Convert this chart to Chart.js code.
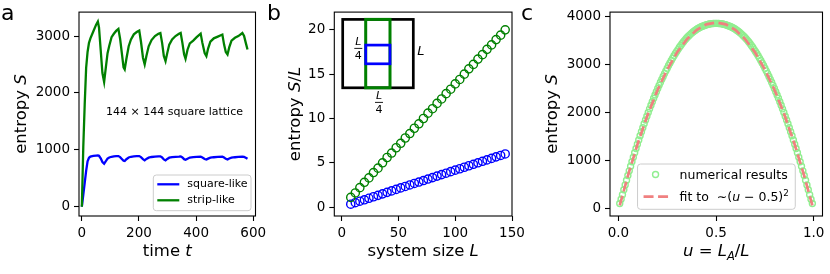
<!DOCTYPE html>
<html><head><meta charset="utf-8">
<script src="https://cdn.jsdelivr.net/npm/chart.js"></script>
<style>
html,body{margin:0;padding:0;background:#fff;}
#wrap{position:relative;width:830px;height:274px;overflow:hidden;background:#fff;}
canvas{position:absolute;top:0;}
</style></head><body>
<div id="wrap">
<canvas id="ca" width="280" height="274" style="left:0px;width:280px;height:274px"></canvas>
<canvas id="cb" width="275" height="274" style="left:262px;width:275px;height:274px"></canvas>
<canvas id="cc" width="315" height="274" style="left:515px;width:315px;height:274px"></canvas>
</div>
<script>
// ---------- data: panel a ----------
const timeT = [0,5,10,15,20,25,30,40,50,56,60,66,72,78,84,90,96,104,112,120,128,134,140,146,150,156,164,172,182,192,201,207,214,220,226,234,244,256,268,275,281,287,293,299,306,316,328,340,346,352,358,363,370,378,390,402,416,422,430,436,442,450,462,476,492,498,504,510,516,524,536,548,562,568,574,580];
const stripLikeS = [0,1050,1800,2440,2720,2880,2960,3080,3200,3255,3150,2750,2350,2194,2450,2700,2830,2980,3040,3090,3124,2950,2700,2450,2415,2600,2822,2940,3030,3070,3095,2900,2620,2503,2650,2820,2930,3000,3040,3054,2880,2650,2560,2700,2850,2940,3000,3040,3054,2880,2680,2600,2760,2870,2920,2980,3043,2880,2700,2647,2780,2900,2960,2990,3026,2850,2720,2677,2800,2920,2970,3000,3054,3000,2880,2764];
const squareLikeS = [0,210,420,630,800,860,880,893,900,902,895,850,785,757,800,845,865,878,885,888,890,872,840,808,803,835,865,878,885,888,890,872,838,815,840,862,874,880,884,885,866,832,815,840,862,872,878,882,885,866,836,825,845,864,872,878,882,865,838,828,845,862,870,875,880,865,842,830,848,862,870,875,880,876,862,845];
const ticksAX = [0,200,400,600];
const ticksAY = [0,1000,2000,3000];

// ---------- data: panel b ----------
const sizeL = [8,12,16,20,24,28,32,36,40,44,48,52,56,60,64,68,72,76,80,84,88,92,96,100,104,108,112,116,120,124,128,132,136,140,144];
const stripSperL = [1.1,1.6,2.2,2.8,3.3,3.9,4.4,5.0,5.6,6.1,6.7,7.2,7.8,8.3,8.9,9.4,10.0,10.6,11.1,11.7,12.2,12.8,13.3,13.9,14.4,15.0,15.6,16.1,16.7,17.2,17.8,18.3,18.9,19.4,20.0];
const squareSperL = [0.33,0.5,0.67,0.83,1.0,1.17,1.33,1.5,1.67,1.83,2.0,2.17,2.33,2.5,2.67,2.83,3.0,3.17,3.33,3.5,3.67,3.83,4.0,4.17,4.33,4.5,4.67,4.83,5.0,5.17,5.33,5.5,5.67,5.83,6.0];
const ticksBX = [0,50,100,150];
const ticksBY = [0,5,10,15,20];

// ---------- data: panel c ----------
const uNum = [0.0069,0.0139,0.0208,0.0278,0.0347,0.0417,0.0486,0.0556,0.0625,0.0694,0.0764,0.0833,0.0903,0.0972,0.1042,0.1111,0.1181,0.125,0.1319,0.1389,0.1458,0.1528,0.1597,0.1667,0.1736,0.1806,0.1875,0.1944,0.2014,0.2083,0.2153,0.2222,0.2292,0.2361,0.2431,0.25,0.2569,0.2639,0.2708,0.2778,0.2847,0.2917,0.2986,0.3056,0.3125,0.3194,0.3264,0.3333,0.3403,0.3472,0.3542,0.3611,0.3681,0.375,0.3819,0.3889,0.3958,0.4028,0.4097,0.4167,0.4236,0.4306,0.4375,0.4444,0.4514,0.4583,0.4653,0.4722,0.4792,0.4861,0.4931,
  0.5,
  0.5069,0.5139,0.5208,0.5278,0.5347,0.5417,0.5486,0.5556,0.5625,0.5694,0.5764,0.5833,0.5903,0.5972,0.6042,0.6111,0.6181,0.625,0.6319,0.6389,0.6458,0.6528,0.6597,0.6667,0.6736,0.6806,0.6875,0.6944,0.7014,0.7083,0.7153,0.7222,0.7292,0.7361,0.7431,0.75,0.7569,0.7639,0.7708,0.7778,0.7847,0.7917,0.7986,0.8056,0.8125,0.8194,0.8264,0.8333,0.8403,0.8472,0.8542,0.8611,0.8681,0.875,0.8819,0.8889,0.8958,0.9028,0.9097,0.9167,0.9236,0.9306,0.9375,0.9444,0.9514,0.9583,0.9653,0.9722,0.9792,0.9861,0.9931];
const sNum = [100,190,285,385,485,585,682,780,876,970,1064,1156,1246,1335,1423,1510,1594,1677,1759,1840,1918,1995,2071,2146,2218,2290,2360,2428,2494,2560,2623,2685,2746,2805,2862,2918,2972,3025,3077,3127,3175,3222,3267,3310,3352,3392,3430,3467,3502,3535,3566,3595,3622,3648,3672,3694,3714,3733,3750,3765,3779,3791,3802,3812,3821,3829,3836,3842,3846,3849,3850,
  3850,
  3850,3849,3846,3842,3836,3829,3821,3812,3802,3791,3779,3765,3750,3733,3714,3694,3672,3648,3622,3595,3566,3535,3502,3467,3430,3392,3352,3310,3267,3222,3175,3127,3077,3025,2972,2918,2862,2805,2746,2685,2623,2560,2494,2428,2360,2290,2218,2146,2071,1995,1918,1840,1759,1677,1594,1510,1423,1335,1246,1156,1064,970,876,780,682,585,485,385,285,190,100];
const uFit = [0.007,0.05,0.10,0.15,0.20,0.25,0.30,0.35,0.40,0.45,0.50,0.55,0.60,0.65,0.70,0.75,0.80,0.85,0.90,0.95,0.993];
const sFit = [59,695,1361,1949,2459,2890,3243,3517,3713,3831,3870,3831,3713,3517,3243,2890,2459,1949,1361,695,59];
const ticksCX = [0,0.5,1.0];
const ticksCY = [0,1000,2000,3000,4000];

// ---------- helpers ----------
const FONT = "'DejaVu Sans', sans-serif";
const TICK_SIZE = 13.5, LABEL_SIZE = 16.5;

function pts(xs, ys){ return xs.map((x,i)=>({x:x, y:ys[i]})); }

function fontStr(p, size){
  const s = (p.sub||p.sup) ? size*0.7 : size;
  return (p.i ? 'italic ' : '') + s + 'px ' + FONT;
}
function richWidth(ctx, parts, size){
  let w = 0;
  for (const p of parts){ ctx.font = fontStr(p,size); w += ctx.measureText(p.t).width; }
  return w;
}
function drawRich(ctx, parts, x, y, size, align, rotate){
  ctx.save();
  ctx.translate(x,y);
  if (rotate) ctx.rotate(-Math.PI/2);
  const w = richWidth(ctx, parts, size);
  let cx = align === 'center' ? -w/2 : 0;
  ctx.textBaseline = 'alphabetic'; ctx.textAlign = 'left'; ctx.fillStyle = '#000';
  for (const p of parts){
    ctx.font = fontStr(p,size);
    let dy = 0;
    if (p.sub) dy = size*0.22;
    if (p.sup) dy = -size*0.42;
    ctx.fillText(p.t, cx, dy);
    cx += ctx.measureText(p.t).width;
  }
  ctx.restore();
}
function roundRect(ctx, x, y, w, h, r){
  ctx.beginPath();
  ctx.moveTo(x+r,y); ctx.lineTo(x+w-r,y); ctx.quadraticCurveTo(x+w,y,x+w,y+r);
  ctx.lineTo(x+w,y+h-r); ctx.quadraticCurveTo(x+w,y+h,x+w-r,y+h);
  ctx.lineTo(x+r,y+h); ctx.quadraticCurveTo(x,y+h,x,y+h-r);
  ctx.lineTo(x,y+r); ctx.quadraticCurveTo(x,y,x+r,y); ctx.closePath();
}
function legendBox(ctx, x, y, w, h){
  ctx.save();
  roundRect(ctx, x, y, w, h, 3);
  ctx.fillStyle = 'rgba(255,255,255,0.8)'; ctx.fill();
  ctx.strokeStyle = '#cccccc'; ctx.lineWidth = 1; ctx.stroke();
  ctx.restore();
}

function axisCfg(min, max, ticksArr, fmt, isY, fitSize){
  return {
    type:'linear', min:min, max:max, position: isY ? 'left' : 'bottom',
    afterBuildTicks: s => { s.ticks = ticksArr.map(v => ({value:v})); },
    afterFit: s => { if (isY) s.width = fitSize; else s.height = fitSize; },
    grid: {display:true, drawOnChartArea:false, drawTicks:true, tickLength:5, tickWidth:1.1, tickColor:'#000'},
    border: {display:false},
    title: {display:false},
    ticks: {color:'#000', font:{family:FONT, size:TICK_SIZE}, padding:4, callback: fmt, maxRotation:0, autoSkip:false}
  };
}

function framePlugin(extraDraw){
  return {
    id:'frame',
    afterDatasetsDraw(chart){
      const ctx = chart.ctx, a = chart.chartArea;
      ctx.save();
      ctx.strokeStyle = '#000'; ctx.lineWidth = 1.1;
      ctx.strokeRect(a.left, a.top, a.right-a.left, a.bottom-a.top);
      ctx.restore();
      extraDraw(chart, ctx, a);
    }
  };
}

const baseOpts = (pad) => ({
  responsive:false, animation:false, devicePixelRatio:1,
  layout:{padding:pad},
  plugins:{legend:{display:false}, tooltip:{enabled:false}}
});

// ---------- panel a ----------
new Chart(document.getElementById('ca'), {
  type:'line',
  data:{datasets:[
    {label:'strip-like', data:pts(timeT, stripLikeS), borderColor:'#008000', borderWidth:2.3, pointRadius:0, fill:false, tension:0},
    {label:'square-like', data:pts(timeT, squareLikeS), borderColor:'#0000ff', borderWidth:2.3, pointRadius:0, fill:false, tension:0}
  ]},
  options: Object.assign(baseOpts({left:0, right:24.5, top:11, bottom:0}), {
    scales:{
      x: axisCfg(-10, 608, ticksAX, v => String(v), false, 58),
      y: axisCfg(-163, 3421, ticksAY, v => String(v), true, 79)
    }
  }),
  plugins:[framePlugin((chart, ctx, a) => {
    ctx.save();
    ctx.font = '11px ' + FONT; ctx.fillStyle = '#000'; ctx.textAlign = 'center'; ctx.textBaseline = 'alphabetic';
    ctx.fillText('144 \u00d7 144 square lattice', a.left + 95.5, a.top + 103);
    ctx.restore();
    const lx = a.right - 102.2, ly = a.bottom - 41;
    legendBox(ctx, lx, ly, 97.7, 35.7);
    const ds = chart.data.datasets;
    const entries = [[ds[1], 'square-like', ly + 9.3], [ds[0], 'strip-like', ly + 25.3]];
    ctx.save();
    for (const [d, txt, yy] of entries){
      ctx.strokeStyle = d.borderColor; ctx.lineWidth = 2.3;
      ctx.beginPath(); ctx.moveTo(lx + 4, yy); ctx.lineTo(lx + 26, yy); ctx.stroke();
      ctx.fillStyle = '#000'; ctx.font = '11px ' + FONT; ctx.textBaseline = 'middle'; ctx.textAlign = 'left';
      ctx.fillText(txt, lx + 34, yy);
    }
    ctx.restore();
    drawRich(ctx, [{t:'entropy '},{t:'S',i:1}], 26, (a.top+a.bottom)/2, LABEL_SIZE, 'center', true);
    drawRich(ctx, [{t:'time '},{t:'t',i:1}], (a.left+a.right)/2, 256, LABEL_SIZE, 'center', false);
    ctx.save(); ctx.font = '22px ' + FONT; ctx.fillStyle = '#000'; ctx.textBaseline = 'alphabetic';
    ctx.fillText('a', 1, 19.5); ctx.restore();
  })]
});

// ---------- panel b ----------
new Chart(document.getElementById('cb'), {
  type:'scatter',
  data:{datasets:[
    {label:'strip-like', data:pts(sizeL, stripSperL), showLine:false, pointStyle:'circle', pointRadius:4.1, pointBorderWidth:1.4, borderColor:'#008000', backgroundColor:'rgba(0,0,0,0)', pointBackgroundColor:'rgba(0,0,0,0)', pointBorderColor:'#008000'},
    {label:'square-like', data:pts(sizeL, squareSperL), showLine:false, pointStyle:'circle', pointRadius:4.1, pointBorderWidth:1.4, borderColor:'#0000ff', backgroundColor:'rgba(0,0,0,0)', pointBackgroundColor:'rgba(0,0,0,0)', pointBorderColor:'#0000ff'}
  ]},
  options: Object.assign(baseOpts({left:0, right:25, top:11, bottom:0}), {
    scales:{
      x: axisCfg(-6.5, 150, ticksBX, v => String(v), false, 58),
      y: axisCfg(-1.0, 22.0, ticksBY, v => String(v), true, 72.3)
    }
  }),
  plugins:[framePlugin((chart, ctx, a) => {
    const ox = a.left, oy = a.top;
    ctx.save();
    ctx.fillStyle = '#fff';
    ctx.fillRect(ox+8.4, oy+7.3, 70.6, 68.4);
    ctx.strokeStyle = '#000'; ctx.lineWidth = 2.7;
    ctx.strokeRect(ox+8.4, oy+7.3, 70.6, 68.4);
    ctx.strokeStyle = '#008000'; ctx.lineWidth = 3;
    ctx.strokeRect(ox+31.4, oy+7.3, 24.3, 68.4);
    ctx.strokeStyle = '#0000ff'; ctx.lineWidth = 2.7;
    ctx.strokeRect(ox+31.4, oy+33, 24.3, 18.7);
    const frac = (cx, yL) => {
      ctx.fillStyle = '#000'; ctx.textAlign = 'center'; ctx.textBaseline = 'alphabetic';
      ctx.font = 'italic 11px ' + FONT; ctx.fillText('L', cx, yL);
      ctx.strokeStyle = '#000'; ctx.lineWidth = 0.9;
      ctx.beginPath(); ctx.moveTo(cx-4, yL+3); ctx.lineTo(cx+4, yL+3); ctx.stroke();
      ctx.font = '11px ' + FONT; ctx.fillText('4', cx, yL+13.4);
    };
    frac(ox+24, oy+33.3);
    frac(ox+44.7, oy+87.3);
    ctx.font = 'italic 13px ' + FONT; ctx.textAlign = 'left'; ctx.textBaseline = 'alphabetic'; ctx.fillStyle = '#000';
    ctx.fillText('L', ox+83, oy+43.3);
    ctx.restore();
    drawRich(ctx, [{t:'entropy '},{t:'S',i:1},{t:'/'},{t:'L',i:1}], 300-262, (a.top+a.bottom)/2, LABEL_SIZE, 'center', true);
    drawRich(ctx, [{t:'system size '},{t:'L',i:1}], (a.left+a.right)/2, 256, LABEL_SIZE, 'center', false);
    ctx.save(); ctx.font = '22px ' + FONT; ctx.fillStyle = '#000'; ctx.textBaseline = 'alphabetic';
    ctx.fillText('b', 267-262, 19.5); ctx.restore();
  })]
});

// ---------- panel c ----------
new Chart(document.getElementById('cc'), {
  type:'scatter',
  data:{datasets:[
    {label:'fit', data:pts(uFit, sFit), showLine:true, pointRadius:0, borderColor:'#f08080', borderWidth:2.7, borderDash:[10,4.5], fill:false, tension:0},
    {label:'numerical results', data:pts(uNum, sNum), showLine:false, pointStyle:'circle', pointRadius:3, pointBorderWidth:1.4, borderColor:'#90ee90', backgroundColor:'rgba(0,0,0,0)', pointBackgroundColor:'rgba(0,0,0,0)', pointBorderColor:'#90ee90'}
  ]},
  options: Object.assign(baseOpts({left:0, right:7.5, top:11, bottom:0}), {
    scales:{
      x: axisCfg(-0.043, 1.045, ticksCX, v => Number(v).toFixed(1), false, 58),
      y: axisCfg(-160, 4085, ticksCY, v => String(v), true, 95)
    }
  }),
  plugins:[framePlugin((chart, ctx, a) => {
    const cx = (a.left + a.right)/2;
    const lx = cx - 78.7, ly = a.bottom - 52;
    legendBox(ctx, lx, ly, 157.7, 45.3);
    ctx.save();
    ctx.strokeStyle = '#90ee90'; ctx.lineWidth = 1.4;
    ctx.beginPath(); ctx.arc(lx + 18, ly + 10.5, 3, 0, Math.PI*2); ctx.stroke();
    ctx.strokeStyle = '#f08080'; ctx.lineWidth = 2.7; ctx.setLineDash([10,4.5]);
    ctx.beginPath(); ctx.moveTo(lx + 6, ly + 32.7); ctx.lineTo(lx + 31, ly + 32.7); ctx.stroke();
    ctx.setLineDash([]);
    ctx.restore();
    ctx.save();
    ctx.fillStyle = '#000'; ctx.font = '12.5px ' + FONT; ctx.textBaseline = 'alphabetic'; ctx.textAlign = 'left';
    ctx.fillText('numerical results', lx + 42, ly + 15);
    ctx.restore();
    drawRich(ctx, [{t:'fit to  '},{t:'\u223c'},{t:'('},{t:'u',i:1},{t:' \u2212 '},{t:'0.5)'},{t:'2',sup:1}], lx + 42, ly + 37.2, 12.5, 'left', false);
    drawRich(ctx, [{t:'entropy '},{t:'S',i:1}], 557-515, (a.top+a.bottom)/2, LABEL_SIZE, 'center', true);
    drawRich(ctx, [{t:'u',i:1},{t:' = '},{t:'L',i:1},{t:'A',i:1,sub:1},{t:'/'},{t:'L',i:1}], cx, 256, LABEL_SIZE, 'center', false);
    ctx.save(); ctx.font = '22px ' + FONT; ctx.fillStyle = '#000'; ctx.textBaseline = 'alphabetic';
    ctx.fillText('c', 521-515, 19.5); ctx.restore();
  })]
});
</script>
</body></html>
